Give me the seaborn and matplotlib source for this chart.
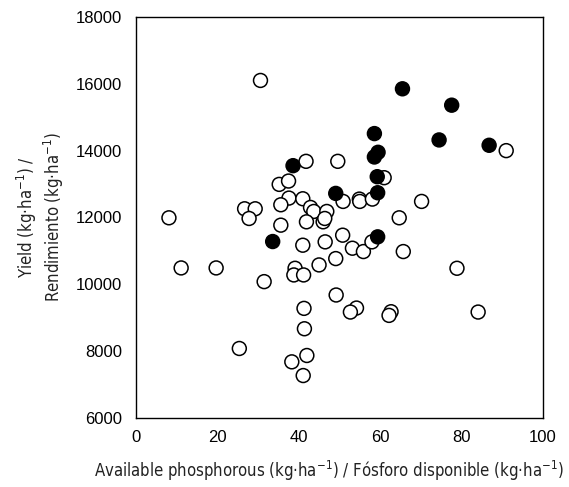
import matplotlib
matplotlib.use("Agg")
import matplotlib.pyplot as plt
import seaborn as sns
import pandas as pd

# Available phosphorous (kg/ha), yield (kg/ha), group (open / filled)
phosphorus = [30.6, 91.0, 61.0, 35.2, 37.5, 50.9, 54.9, 55.0, 58.1, 70.2,
              37.6, 41.0, 35.6, 42.9, 43.7, 46.9, 26.7, 29.3, 27.8, 8.1,
              35.6, 41.9, 46.0, 46.4, 64.7, 41.0, 46.5, 50.8, 53.2, 55.9,
              58.0, 65.7, 11.1, 19.7, 45.0, 49.1, 78.9, 39.1, 38.8, 41.2,
              31.5, 49.2, 41.3, 54.2, 52.7, 62.7, 62.2, 84.1, 41.4, 25.4,
              42.0, 38.3, 41.1,
              65.5, 77.6, 58.6, 74.5, 86.8, 59.5, 58.6, 38.6, 59.3, 49.1,
              59.4, 33.6, 59.4,
              41.8, 49.6]
yield_ = [16100, 14000, 13190, 12990, 13090, 12480, 12550, 12480, 12550, 12480,
          12580, 12560, 12380, 12300, 12180, 12180, 12260, 12260, 11970, 11990,
          11770, 11870, 11870, 11970, 11990, 11170, 11270, 11470, 11080, 10980,
          11270, 10980, 10490, 10490, 10580, 10770, 10480, 10480, 10280, 10280,
          10080, 9680, 9280, 9290, 9170, 9180, 9070, 9170, 8670, 8080,
          7870, 7680, 7270,
          15850, 15360, 14510, 14320, 14160, 13950, 13810, 13550, 13220, 12720,
          12740, 11280, 11420,
          13680, 13680]
group = (["open"] * 53) + (["filled"] * 13) + (["open"] * 2)

x_ticks = [0, 20, 40, 60, 80, 100]
y_ticks = [6000, 8000, 10000, 12000, 14000, 16000, 18000]

df = pd.DataFrame({"P": phosphorus, "Y": yield_, "g": group})

sns.set_theme(style="white")
plt.rcParams["font.family"] = ["Liberation Sans", "DejaVu Sans"]

fig = plt.figure(figsize=(5.69, 4.87), dpi=100)
ax = fig.add_axes([0.239, 0.1417, 0.715, 0.8235])

sns.scatterplot(data=df, x="P", y="Y", hue="g",
                palette={"open": "white", "filled": "black"},
                edgecolor="black", linewidth=1.1, s=100, legend=False, ax=ax,
                zorder=3)

ax.set_xlim(0, 100)
ax.set_ylim(6000, 18000)
ax.set_xticks(x_ticks)
ax.set_yticks(y_ticks)
ax.tick_params(axis="both", length=0, labelsize=12, colors="black")
ax.tick_params(axis="y", pad=10)
ax.tick_params(axis="x", pad=9)
for sp in ax.spines.values():
    sp.set_visible(True)
    sp.set_color("black")
    sp.set_linewidth(1.0)

lab_font = dict(family=["DejaVu Sans"], stretch="condensed", size=12, color="#222222")
ax.set_xlabel("Available phosphorous (kg·ha$^{\\mathregular{-1}}$) / Fósforo disponible (kg·ha$^{\\mathregular{-1}}$)",
              fontdict=lab_font)
ax.xaxis.set_label_coords(0.475, -0.103)
ax.set_ylabel("Yield (kg·ha$^{\\mathregular{-1}}$) /\nRendimiento (kg·ha$^{\\mathregular{-1}}$)",
              fontdict=lab_font, labelpad=7, linespacing=1.15)

fig.savefig("out.png", dpi=100)
